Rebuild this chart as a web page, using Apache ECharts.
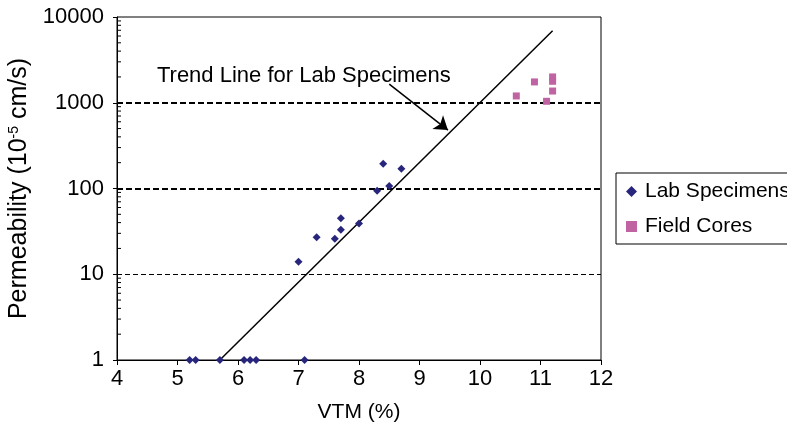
<!DOCTYPE html>
<html>
<head>
<meta charset="utf-8">
<script src="https://cdn.jsdelivr.net/npm/echarts@6/dist/echarts.min.js"></script>
<style>
  html, body { margin: 0; padding: 0; background: #fff; }
  #chart { width: 787px; height: 429px; }
</style>
</head>
<body>
<div id="chart"></div>
<script>
// VTM (%) vs permeability (1e-5 cm/s)
const labVTM   = [5.2, 5.3, 5.7, 6.1, 6.2, 6.3, 7.1, 7.0, 7.3, 7.6, 7.7, 7.7, 8.0, 8.3, 8.5, 8.4, 8.7];
const labPerm  = [1, 1, 1, 1, 1, 1, 1, 14, 27, 26, 33, 45, 39, 94, 107, 195, 170];
const fieldVTM  = [10.6, 10.9, 11.1, 11.2, 11.2, 11.2];
const fieldPerm = [1200, 1750, 1040, 1370, 1780, 2000];
// exponential trend line for lab specimens (end points)
const trendVTM  = [5.7, 11.2];
const trendPerm = [1, 6900];
// axis ticks
const xTicks = [4, 5, 6, 7, 8, 9, 10, 11, 12];
const yTicks = [1, 10, 100, 1000, 10000];
const dashedLevels = [10, 100, 1000];

const FONT = 'Liberation Sans, Arial, sans-serif';
const FS = 21;       // legend / axis names
const FS_TICK = 22;  // tick labels and note
const FS_YNAME = 25;

const labData = labVTM.map((v, i) => [v, labPerm[i]]);
const fieldData = fieldVTM.map((v, i) => [v, fieldPerm[i]]);
const trendData = trendVTM.map((v, i) => [v, trendPerm[i]]);

// minor tick values 2..9 inside each decade
const minorTicks = [];
for (let d = 0; d < yTicks.length - 1; d++) {
  for (let m = 2; m <= 9; m++) minorTicks.push([xTicks[0], m * yTicks[d]]);
}

const chart = echarts.init(document.getElementById('chart'));
chart.setOption({
  animation: false,
  backgroundColor: '#fff',
  textStyle: { fontFamily: FONT },
  grid: {
    left: 117, top: 17, right: 186, bottom: 69,
    outerBoundsMode: 'none', containLabel: false,
    show: true, borderColor: '#000', borderWidth: 1, backgroundColor: 'transparent'
  },
  legend: {
    orient: 'vertical',
    left: 616, top: 173,
    padding: [8, 40, 7, 10],
    itemGap: 14,
    itemWidth: 11, itemHeight: 11,
    borderColor: '#000', borderWidth: 1,
    textStyle: { fontSize: FS, color: '#000', fontFamily: FONT, padding: [0, 0, 0, 3] },
    data: [
      { name: 'Lab Specimens', icon: 'diamond' },
      { name: 'Field Cores', icon: 'rect' }
    ]
  },
  xAxis: {
    type: 'value', min: xTicks[0], max: xTicks[xTicks.length - 1], interval: 1,
    name: 'VTM (%)', nameLocation: 'middle', nameGap: 42,
    nameTextStyle: { fontSize: FS, color: '#000', fontFamily: FONT },
    axisLine: { lineStyle: { color: '#000', width: 1 } },
    axisTick: { show: true, length: 5, lineStyle: { color: '#000' } },
    axisLabel: { fontSize: FS_TICK, color: '#000', margin: 8, fontFamily: FONT },
    splitLine: { show: false }
  },
  yAxis: {
    type: 'log', logBase: 10, min: yTicks[0], max: yTicks[yTicks.length - 1],
    name: 'Permeability (10{sup|-5} cm/s)', nameLocation: 'middle', nameGap: 83,
    nameTextStyle: {
      fontSize: FS_YNAME, color: '#000', fontFamily: FONT,
      rich: { sup: { fontSize: 14, color: '#000', fontFamily: FONT, padding: [0, 0, 11, 0] } }
    },
    axisLine: { show: true, lineStyle: { color: '#000', width: 1 } },
    axisTick: { show: true, length: 4, lineStyle: { color: '#000' } },
    axisLabel: {
      fontSize: FS_TICK, color: '#000', margin: 13, fontFamily: FONT,
      formatter: v => String(Math.round(v))
    },
    splitLine: { show: false },
    minorTick: { show: false }
  },
  series: [
    {
      // log-spaced minor ticks drawn inside the y axis
      type: 'custom',
      silent: true,
      z: 1,
      data: minorTicks,
      renderItem: function (params, api) {
        const p = api.coord([api.value(0), api.value(1)]);
        return {
          type: 'line',
          shape: { x1: p[0], y1: p[1], x2: p[0] + 4, y2: p[1] },
          style: { stroke: '#000', lineWidth: 1 }
        };
      }
    },
    {
      // dashed reference levels
      type: 'line',
      data: [],
      silent: true,
      markLine: {
        silent: true, symbol: 'none', animation: false,
        label: { show: false },
        data: dashedLevels.map(v => ({
          yAxis: v,
          lineStyle: {
            color: '#000',
            width: v === 10 ? 1 : 2,
            type: v === 10 ? [5, 3] : [6, 3]
          }
        }))
      }
    },
    {
      name: 'Trend Line',
      type: 'line',
      data: trendData,
      symbol: 'none',
      z: 3,
      lineStyle: { color: '#000', width: 1.5 },
      markLine: {
        silent: true, animation: false,
        symbol: ['none', 'arrow'], symbolSize: 13,
        label: { show: false },
        itemStyle: { color: '#000' },
        lineStyle: { color: '#000', width: 1.5, type: 'solid' },
        data: [[{ coord: [8.5, 1650] }, { coord: [9.47, 480] }]]
      },
      markPoint: {
        silent: true, animation: false,
        symbol: 'circle', symbolSize: 0,
        label: {
          show: true, position: 'inside', align: 'left', verticalAlign: 'middle',
          fontSize: FS_TICK, color: '#000', fontFamily: FONT,
          formatter: 'Trend Line for Lab Specimens'
        },
        data: [{ coord: [4.66, 2050] }]
      }
    },
    {
      name: 'Lab Specimens',
      type: 'scatter',
      symbol: 'diamond',
      symbolSize: 8,
      z: 5,
      itemStyle: { color: '#28267C', opacity: 1 },
      data: labData
    },
    {
      name: 'Field Cores',
      type: 'scatter',
      symbol: 'rect',
      symbolSize: 7,
      z: 5,
      itemStyle: { color: '#C063A3', opacity: 1 },
      data: fieldData
    }
  ]
});
</script>
</body>
</html>
